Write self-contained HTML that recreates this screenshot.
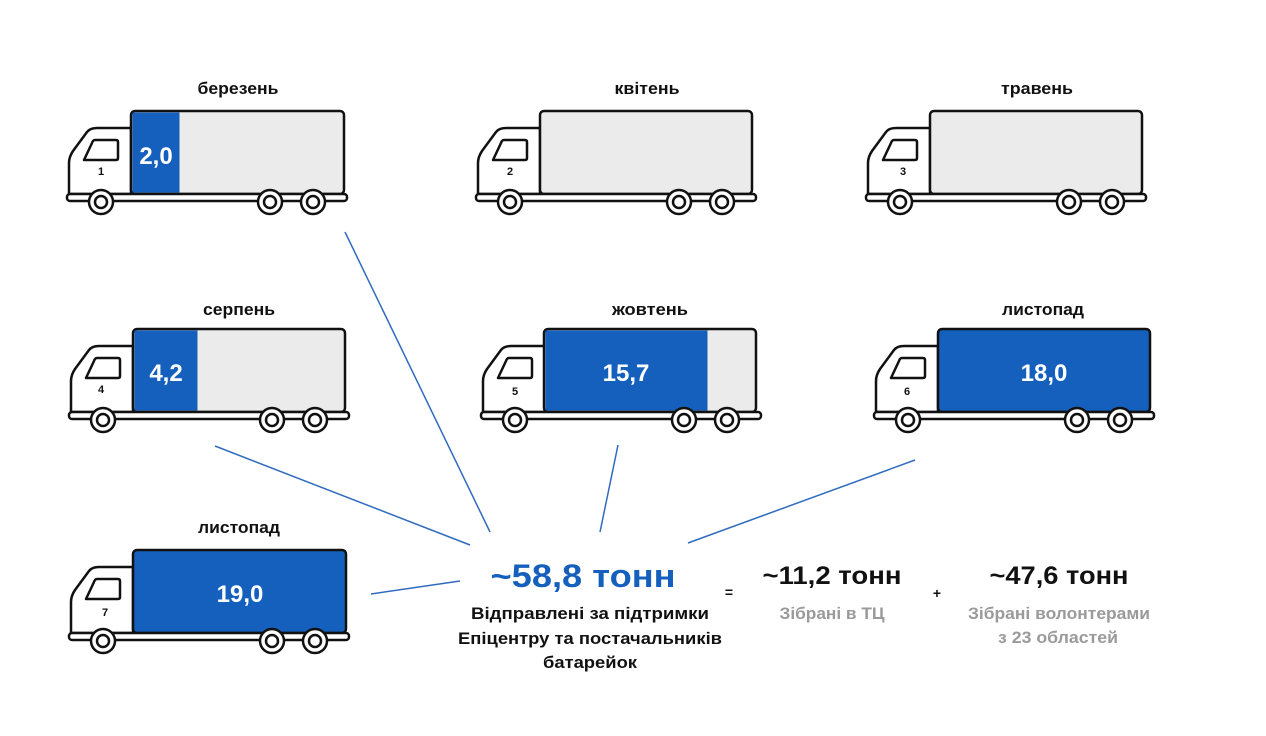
<!DOCTYPE html>
<html><head><meta charset="utf-8"><style>
html,body{margin:0;padding:0;background:#fff;}
svg{display:block}
text{font-family:"Liberation Sans Narrow","Liberation Sans",sans-serif;font-weight:bold;}
</style></head><body>
<svg width="1266" height="736" viewBox="0 0 1266 736" xmlns="http://www.w3.org/2000/svg">
<defs>
<g id="cab">
  <path d="M2,83 L2,52 Q2,46 6,40 L20,21 Q23,17 30,17 L64,17 L64,83 Z" fill="#fff" stroke="#111" stroke-width="2.5" stroke-linejoin="round"/>
  <path d="M28,29 L49,29 Q51,29 51,31 L51,47 Q51,49 49,49 L17,49 L25,32 Q26,29 28,29 Z" fill="#fff" stroke="#111" stroke-width="2.5" stroke-linejoin="round"/>
</g>
<g id="base">
  <rect x="0" y="83" width="280" height="7" rx="3" fill="#fff" stroke="#111" stroke-width="2.5"/>
  <g fill="#fff" stroke="#111" stroke-width="2.5">
    <circle cx="34" cy="91" r="12"/><circle cx="34" cy="91" r="6"/>
    <circle cx="203" cy="91" r="12"/><circle cx="203" cy="91" r="6"/>
    <circle cx="246" cy="91" r="12"/><circle cx="246" cy="91" r="6"/>
  </g>
</g>
</defs>

<g stroke="#2f6bbf" stroke-width="1.5">
<line x1="345" y1="232" x2="490" y2="532"/>
<line x1="215" y1="446" x2="470" y2="545"/>
<line x1="618" y1="445" x2="600" y2="532"/>
<line x1="915" y1="460" x2="688" y2="543"/>
<line x1="371" y1="594" x2="460" y2="581"/>
</g>

<g transform="translate(67,111)">
  <use href="#cab"/>
  <rect x="64" y="0" width="213" height="83" rx="4" fill="#ebebeb" stroke="#111" stroke-width="2.5"/>
  <path d="M65.5,1.5 h47 v80 h-47 z" fill="#1560bd"/>
  <use href="#base"/>
  <text x="34" y="64" font-size="11" text-anchor="middle" fill="#111">1</text>
  <text x="89" y="53" font-size="24" text-anchor="middle" fill="#fff">2,0</text>
</g>
<text x="238" y="94" font-size="17" text-anchor="middle" fill="#111" textLength="81" lengthAdjust="spacingAndGlyphs">березень</text>

<g transform="translate(476,111)">
  <use href="#cab"/>
  <rect x="64" y="0" width="212" height="83" rx="4" fill="#ebebeb" stroke="#111" stroke-width="2.5"/>
  <use href="#base"/>
  <text x="34" y="64" font-size="11" text-anchor="middle" fill="#111">2</text>
</g>
<text x="647" y="94" font-size="17" text-anchor="middle" fill="#111" textLength="65" lengthAdjust="spacingAndGlyphs">квітень</text>

<g transform="translate(866,111)">
  <use href="#cab"/>
  <rect x="64" y="0" width="212" height="83" rx="4" fill="#ebebeb" stroke="#111" stroke-width="2.5"/>
  <use href="#base"/>
  <text x="37" y="64" font-size="11" text-anchor="middle" fill="#111">3</text>
</g>
<text x="1037" y="94" font-size="17" text-anchor="middle" fill="#111" textLength="72" lengthAdjust="spacingAndGlyphs">травень</text>

<g transform="translate(69,329)">
  <use href="#cab"/>
  <rect x="64" y="0" width="212" height="83" rx="4" fill="#ebebeb" stroke="#111" stroke-width="2.5"/>
  <path d="M65.5,1.5 h63 v80 h-63 z" fill="#1560bd"/>
  <use href="#base"/>
  <text x="32" y="64" font-size="11" text-anchor="middle" fill="#111">4</text>
  <text x="97" y="52" font-size="24" text-anchor="middle" fill="#fff">4,2</text>
</g>
<text x="239" y="315" font-size="17" text-anchor="middle" fill="#111" textLength="72" lengthAdjust="spacingAndGlyphs">серпень</text>

<g transform="translate(481,329)">
  <use href="#cab"/>
  <rect x="63" y="0" width="212" height="83" rx="4" fill="#ebebeb" stroke="#111" stroke-width="2.5"/>
  <path d="M64.5,1.5 h162 v80 h-162 z" fill="#1560bd"/>
  <use href="#base"/>
  <text x="34" y="66" font-size="11" text-anchor="middle" fill="#111">5</text>
  <text x="145" y="52" font-size="24" text-anchor="middle" fill="#fff">15,7</text>
</g>
<text x="650" y="315" font-size="17" text-anchor="middle" fill="#111" textLength="76" lengthAdjust="spacingAndGlyphs">жовтень</text>

<g transform="translate(874,329)">
  <use href="#cab"/>
  <rect x="64" y="0" width="212" height="83" rx="4" fill="#1560bd" stroke="#111" stroke-width="2.5"/>
  <use href="#base"/>
  <text x="33" y="66" font-size="11" text-anchor="middle" fill="#111">6</text>
  <text x="170" y="52" font-size="24" text-anchor="middle" fill="#fff">18,0</text>
</g>
<text x="1043" y="315" font-size="17" text-anchor="middle" fill="#111" textLength="82" lengthAdjust="spacingAndGlyphs">листопад</text>

<g transform="translate(69,550)">
  <use href="#cab"/>
  <rect x="64" y="0" width="213" height="83" rx="4" fill="#1560bd" stroke="#111" stroke-width="2.5"/>
  <use href="#base"/>
  <text x="36" y="66" font-size="11" text-anchor="middle" fill="#111">7</text>
  <text x="171" y="52" font-size="24" text-anchor="middle" fill="#fff">19,0</text>
</g>
<text x="239" y="533" font-size="17" text-anchor="middle" fill="#111" textLength="82" lengthAdjust="spacingAndGlyphs">листопад</text>

<text x="583" y="587" font-size="32" text-anchor="middle" fill="#1560bd" textLength="185" lengthAdjust="spacingAndGlyphs">~58,8 тонн</text>
<text x="590" y="619" font-size="17" text-anchor="middle" fill="#111" textLength="238" lengthAdjust="spacingAndGlyphs">Відправлені за підтримки</text>
<text x="590" y="644" font-size="17" text-anchor="middle" fill="#111" textLength="264" lengthAdjust="spacingAndGlyphs">Епіцентру та постачальників</text>
<text x="590" y="668" font-size="17" text-anchor="middle" fill="#111" textLength="94" lengthAdjust="spacingAndGlyphs">батарейок</text>

<text x="729" y="597" font-size="14" text-anchor="middle" fill="#111">=</text>
<text x="832" y="584" font-size="25" text-anchor="middle" fill="#111" textLength="139" lengthAdjust="spacingAndGlyphs">~11,2 тонн</text>
<text x="832" y="619" font-size="17" text-anchor="middle" fill="#9a9a9a" textLength="105" lengthAdjust="spacingAndGlyphs">Зібрані в ТЦ</text>

<text x="937" y="598" font-size="14" text-anchor="middle" fill="#111">+</text>
<text x="1059" y="584" font-size="25" text-anchor="middle" fill="#111" textLength="139" lengthAdjust="spacingAndGlyphs">~47,6 тонн</text>
<text x="1059" y="619" font-size="17" text-anchor="middle" fill="#9a9a9a" textLength="182" lengthAdjust="spacingAndGlyphs">Зібрані волонтерами</text>
<text x="1058" y="643" font-size="17" text-anchor="middle" fill="#9a9a9a" textLength="120" lengthAdjust="spacingAndGlyphs">з 23 областей</text>
</svg>
</body></html>
